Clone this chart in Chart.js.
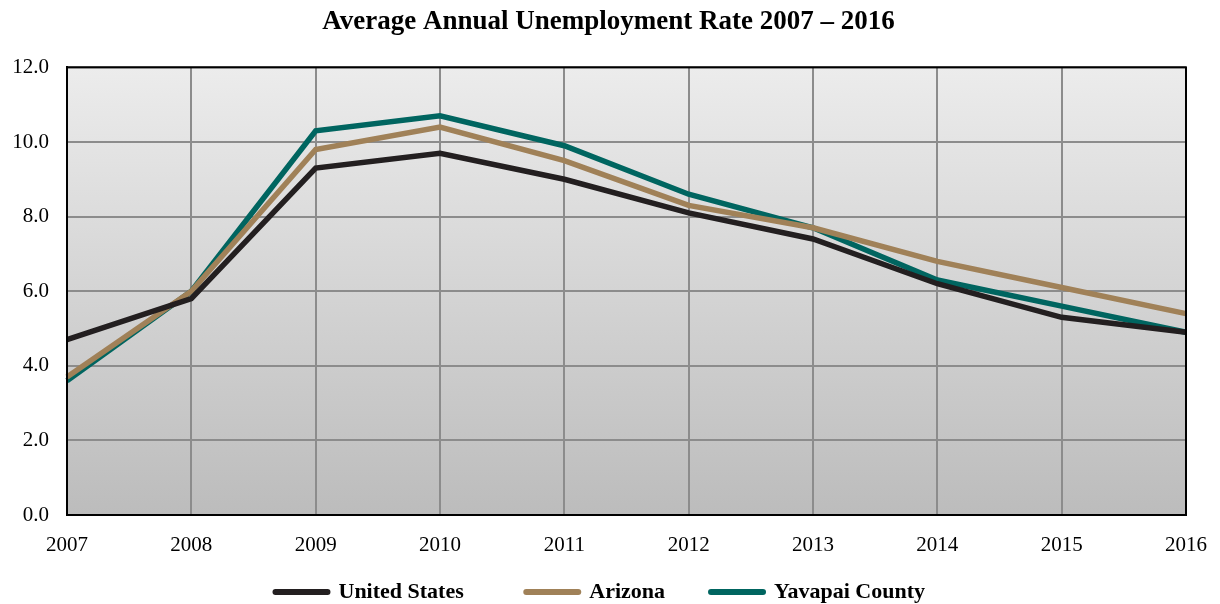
<!DOCTYPE html>
<html>
<head>
<meta charset="utf-8">
<script src="https://cdn.jsdelivr.net/npm/chart.js@4/dist/chart.umd.min.js"></script>
<style>
  body { margin: 0; background: #fff; }
  #wrap { width: 1220px; height: 604px; }
</style>
</head>
<body>
<div id="wrap"><canvas id="unempChart"></canvas></div>
<script>
const years = ["2007", "2008", "2009", "2010", "2011", "2012", "2013", "2014", "2015", "2016"];
const unitedStates = [4.7, 5.8, 9.3, 9.7, 9.0, 8.1, 7.4, 6.2, 5.3, 4.9];
const arizona = [3.7, 6.0, 9.8, 10.4, 9.5, 8.3, 7.7, 6.8, 6.1, 5.4];
const yavapai = [3.6, 6.0, 10.3, 10.7, 9.9, 8.6, 7.7, 6.3, 5.6, 4.9];

const serif = "'Liberation Serif', 'Times New Roman', serif";
const nb = (n) => "\u00a0".repeat(n);
const legendGap = [11, 8, 3]; // trailing spaces after each legend entry

// gray gradient behind the plot + black frame
const plotBg = {
  id: "plotBg",
  beforeDraw(chart) {
    const { ctx, chartArea: a } = chart;
    const g = ctx.createLinearGradient(0, a.top, 0, a.bottom);
    g.addColorStop(0, "#ececec");
    g.addColorStop(1, "#bcbcbc");
    ctx.save();
    ctx.fillStyle = g;
    ctx.fillRect(a.left, a.top, a.right - a.left, a.bottom - a.top);
    ctx.restore();
  },
  afterDatasetsDraw(chart) {
    const { ctx, chartArea: a } = chart;
    ctx.save();
    ctx.strokeStyle = "#000";
    ctx.lineWidth = 2;
    ctx.strokeRect(a.left, a.top, a.right - a.left, a.bottom - a.top);
    ctx.restore();
  },
};

const ctx = document.getElementById("unempChart").getContext("2d");
new Chart(ctx, {
  type: "line",
  data: {
    labels: years,
    datasets: [
      { label: "United States", data: unitedStates, borderColor: "#231f20", backgroundColor: "#231f20" },
      { label: "Arizona", data: arizona, borderColor: "#a08158", backgroundColor: "#a08158" },
      { label: "Yavapai County", data: yavapai, borderColor: "#006560", backgroundColor: "#006560" },
    ],
  },
  options: {
    responsive: true,
    maintainAspectRatio: false,
    animation: false,
    layout: { padding: { left: 4, right: 7, top: 2, bottom: -9 } },
    elements: {
      line: { borderWidth: 5.5, tension: 0, fill: false, borderJoinStyle: "miter" },
      point: { radius: 0, hoverRadius: 0 },
    },
    scales: {
      x: {
        offset: false,
        grid: { color: "#8c8c8c", lineWidth: 2, drawTicks: false },
        border: { color: "#000", width: 2 },
        afterFit: (s) => {
          s.height = 64;
          s.paddingRight = 34;
        },
        ticks: { color: "#000", font: { family: serif, size: 21 }, padding: 18, maxRotation: 0 },
      },
      y: {
        min: 0,
        max: 12,
        grid: { color: "#8c8c8c", lineWidth: 2, drawTicks: false },
        border: { color: "#000", width: 2 },
        afterFit: (s) => { s.width = 63; },
        ticks: {
          stepSize: 2,
          color: "#000",
          font: { family: serif, size: 21 },
          padding: 18,
          callback: (v) => v.toFixed(1),
        },
      },
    },
    plugins: {
      title: {
        display: true,
        text: "Average Annual Unemployment Rate 2007 \u2013 2016",
        color: "#000",
        font: { family: serif, size: 27, weight: "bold" },
        padding: { top: 4, bottom: 29 },
      },
      legend: {
        position: "bottom",
        labels: {
          color: "#000",
          font: { family: serif, size: 22, weight: "bold" },
          usePointStyle: true,
          pointStyleWidth: 52,
          padding: 2,
          generateLabels: (chart) =>
            chart.data.datasets.map((ds, i) => ({
              text: ds.label + nb(legendGap[i]),
              fillStyle: ds.borderColor,
              strokeStyle: ds.borderColor,
              lineWidth: 6,
              lineCap: "round",
              pointStyle: "line",
              fontColor: "#000",
              datasetIndex: i,
            })),
        },
      },
      tooltip: { enabled: false },
    },
  },
  plugins: [plotBg],
});
</script>
</body>
</html>
